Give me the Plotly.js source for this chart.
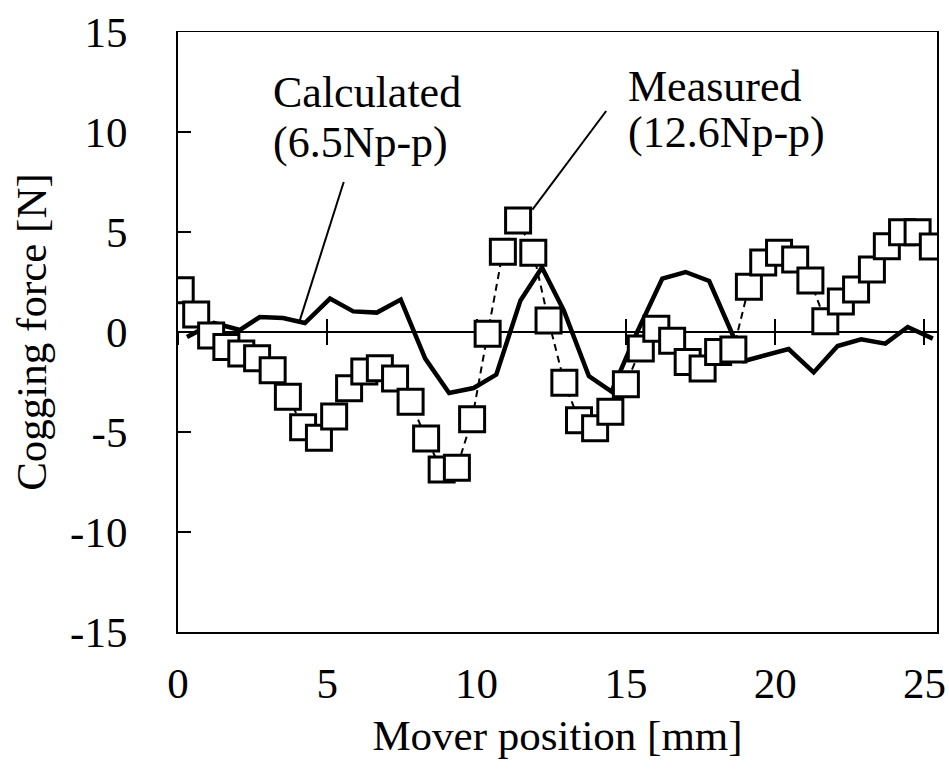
<!DOCTYPE html>
<html>
<head>
<meta charset="utf-8">
<script src="https://cdn.plot.ly/plotly-3.0.1.min.js"></script>
<style>
  html, body { margin: 0; padding: 0; background: #ffffff; }
  #chart { width: 949px; height: 769px; }
</style>
</head>
<body>
<div id="chart"></div>
<script>
// Calculated cogging force (thick solid line)
const calcX = [0.3, 1.2, 2.07, 2.74, 3.52, 4.25, 5.09, 5.87, 6.66, 7.46, 8.28, 9.08, 9.9, 10.66, 11.47, 12.19, 12.92, 13.76, 14.52, 15.38, 16.22, 17.0, 17.79, 18.57, 18.96, 20.45, 21.29, 22.09, 22.88, 23.69, 24.44, 25.28];
const calcY = [-0.25, 0.45, 0.1, 0.75, 0.7, 0.45, 1.67, 1.03, 0.97, 1.62, -1.33, -3.05, -2.8, -2.13, 1.58, 3.22, 1.08, -2.2, -2.98, 0.0, 2.67, 3.0, 2.55, -0.12, -1.45, -0.85, -2.02, -0.7, -0.37, -0.58, 0.25, -0.33];

// Measured cogging force (open squares, dashed line)
const measX = [0.09, 0.61, 1.11, 1.62, 2.12, 2.65, 3.17, 3.68, 4.19, 4.72, 5.23, 5.73, 6.24, 6.76, 7.27, 7.79, 8.31, 8.83, 9.34, 9.85, 10.37, 10.88, 11.39, 11.9, 12.41, 12.94, 13.43, 13.97, 14.48, 15.0, 15.5, 16.02, 16.55, 17.07, 17.57, 18.09, 18.6, 19.12, 19.6, 20.13, 20.67, 21.18, 21.68, 22.2, 22.71, 23.24, 23.74, 24.25, 24.77, 25.28];
const measY = [2.09, 0.88, -0.17, -0.75, -1.07, -1.31, -1.91, -3.24, -4.76, -5.29, -4.22, -2.81, -1.98, -1.81, -2.32, -3.49, -5.33, -6.87, -6.79, -4.36, -0.09, 4.01, 5.58, 3.96, 0.58, -2.54, -4.41, -4.81, -3.99, -2.61, -0.83, 0.16, -0.44, -1.5, -1.82, -1.0, -0.87, 2.26, 3.48, 3.96, 3.63, 2.58, 0.54, 1.53, 2.13, 3.13, 4.29, 4.99, 4.99, 4.28];

// Axis ticks
const xTicks = [0, 5, 10, 15, 20, 25];
const xTickText = ["0", "5", "10", "15", "20", "25"];
const yTicks = [-15, -10, -5, 0, 5, 10, 15];
const yTickText = ["-15", "-10", "-5", "0", "5", "10", "15"];

// Labels
const calcLabel = ["Calculated", "(6.5Np-p)"];
const measLabel = ["Measured", "(12.6Np-p)"];
// leader lines [x0, y0, x1, y1]
const calcLeader = [5.55, 7.5, 4.08, 0.58];
const measLeader = [14.34, 11.05, 11.87, 6.12];

const FONT = "Liberation Serif";
const xRange = [0, 25.42];

const traces = [
  {
    x: calcX, y: calcY, type: "scatter", mode: "lines",
    xaxis: "x2", yaxis: "y",
    line: { color: "#000000", width: 4.5 },
    showlegend: false, hoverinfo: "skip"
  },
  {
    x: measX, y: measY, type: "scatter", mode: "lines+markers",
    xaxis: "x3", yaxis: "y",
    line: { color: "#000000", width: 2, dash: "7px,5px" },
    marker: { symbol: "square", size: 25, color: "#ffffff", line: { color: "#000000", width: 3 } },
    showlegend: false, hoverinfo: "skip"
  }
];

const layout = {
  width: 949, height: 769,
  margin: { l: 178, r: 12, t: 32, b: 137, pad: 0 },
  paper_bgcolor: "#ffffff", plot_bgcolor: "#ffffff",
  font: { family: FONT, color: "#000000", size: 43 },
  showlegend: false,
  xaxis: {
    range: xRange, tickmode: "array", tickvals: xTicks, ticktext: xTickText,
    showline: true, mirror: true, linecolor: "#000000", linewidth: 1.5,
    ticks: "", showgrid: false, zeroline: false,
    tickfont: { family: FONT, size: 43, color: "#000000" },
    ticklabelstandoff: 13,
    title: { text: "Mover position [mm]", font: { family: FONT, size: 43, color: "#000000" }, standoff: 14 },
    automargin: false
  },
  xaxis2: {
    overlaying: "x", anchor: "free", position: 0.5, range: xRange,
    tickmode: "array", tickvals: xTicks, showticklabels: false,
    showline: true, linecolor: "#000000", linewidth: 2,
    ticks: "outside", ticklen: 12, tickwidth: 2, tickcolor: "#000000",
    showgrid: false, zeroline: false, layer: "below traces"
  },
  xaxis3: {
    overlaying: "x", anchor: "free", position: 0.5, range: xRange,
    tickmode: "array", tickvals: xTicks, showticklabels: false,
    showline: false,
    ticks: "inside", ticklen: 13, tickwidth: 2, tickcolor: "#000000",
    showgrid: false, zeroline: false, layer: "below traces"
  },
  yaxis: {
    range: [-15, 15], tickmode: "array", tickvals: yTicks, ticktext: yTickText,
    showline: true, mirror: true, linecolor: "#000000", linewidth: 2,
    ticks: "inside", ticklen: 13, tickwidth: 2, tickcolor: "#000000",
    showgrid: false, zeroline: false,
    tickfont: { family: FONT, size: 43, color: "#000000" },
    ticklabelstandoff: 40,
    title: { text: "Cogging force [N]", font: { family: FONT, size: 43, color: "#000000" }, standoff: 10 },
    automargin: false
  },
  shapes: [
    { type: "line", xref: "x", yref: "y", x0: calcLeader[0], y0: calcLeader[1], x1: calcLeader[2], y1: calcLeader[3], line: { color: "#000000", width: 2 } },
    { type: "line", xref: "x", yref: "y", x0: measLeader[0], y0: measLeader[1], x1: measLeader[2], y1: measLeader[3], line: { color: "#000000", width: 2 } }
  ],
  annotations: [
    { text: calcLabel[0], xref: "x", yref: "y", x: 3.1, y: 12.0, xanchor: "left", yanchor: "middle", showarrow: false, font: { family: FONT, size: 44, color: "#000000" } },
    { text: calcLabel[1], xref: "x", yref: "y", x: 3.1, y: 9.5, xanchor: "left", yanchor: "middle", showarrow: false, font: { family: FONT, size: 44, color: "#000000" } },
    { text: measLabel[0], xref: "x", yref: "y", x: 15.0, y: 12.3, xanchor: "left", yanchor: "middle", showarrow: false, font: { family: FONT, size: 44, color: "#000000" } },
    { text: measLabel[1], xref: "x", yref: "y", x: 15.0, y: 10.0, xanchor: "left", yanchor: "middle", showarrow: false, font: { family: FONT, size: 44, color: "#000000" } }
  ]
};

Plotly.newPlot("chart", traces, layout, { staticPlot: true, displayModeBar: false });
</script>
</body>
</html>
